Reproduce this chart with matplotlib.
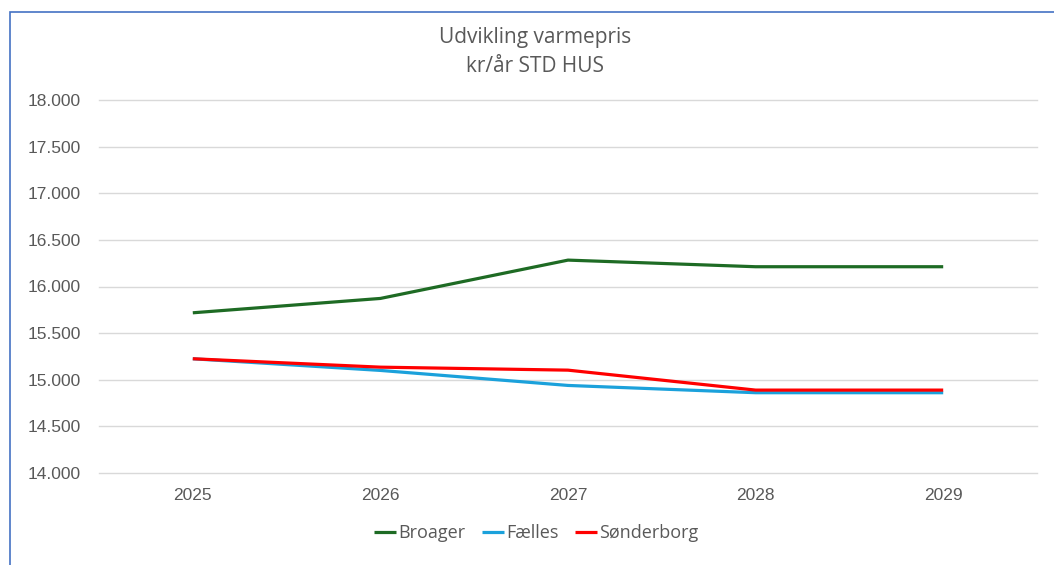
import matplotlib
matplotlib.use("Agg")
import matplotlib.pyplot as plt
from matplotlib.patches import Rectangle

years = ["2025", "2026", "2027", "2028", "2029"]
broager = [15718, 15872, 16283, 16212, 16212]
faelles = [15225, 15100, 14939, 14861, 14861]
soenderborg = [15225, 15135, 15103, 14889, 14889]
series_names = ["Broager", "Fælles", "Sønderborg"]
yticks = [14000, 14500, 15000, 15500, 16000, 16500, 17000, 17500, 18000]
ytick_labels = ["14.000", "14.500", "15.000", "15.500", "16.000", "16.500", "17.000", "17.500", "18.000"]

plt.rcParams['font.family'] = ['Open Sans', 'DejaVu Sans']
txt = '#595959'
tickfont = ['Liberation Sans', 'DejaVu Sans']

fig = plt.figure(figsize=(10.54, 5.65), dpi=100)
fig.patches.append(Rectangle((10/1054, -0.1), 1.2, 1 - 12/565 + 0.1, transform=fig.transFigure,
                             fill=False, edgecolor='#4472C4', linewidth=1.2))
ax = fig.add_axes([99/1054, 1 - 473/565, (1037-99)/1054, (473-100)/565])

x = list(range(len(years)))
colors = ['#1E6B24', '#1BA1DB', '#FF0000']
for data, name, c in zip([broager, faelles, soenderborg], series_names, colors):
    ax.plot(x, data, color=c, linewidth=2.3, label=name, solid_capstyle='butt')

ax.set_xlim(-0.5, len(years) - 0.5)
ax.set_ylim(14000, 18000)
ax.set_yticks(yticks)
ax.set_yticklabels(ytick_labels, family=tickfont)
ax.set_xticks(x)
ax.set_xticklabels(years, family=tickfont)
ax.grid(axis='y', color='#D9D9D9', linewidth=1)
for gl in ax.get_ygridlines():
    gl.set_clip_on(False)
ax.set_axisbelow(True)
for s in ax.spines.values():
    s.set_visible(False)
ax.tick_params(axis='both', length=0, colors=txt, labelsize=12.5)
ax.tick_params(axis='y', pad=13)
ax.tick_params(axis='x', pad=11)

fig.text(535/1054, 1 - 37/565, "Udvikling varmepris", ha='center', va='center', fontsize=15, color=txt)
fig.text(535/1054, 1 - 67/565, "kr/år STD HUS", ha='center', va='center', fontsize=15, color=txt)

leg = fig.legend(loc='center', bbox_to_anchor=(536/1054, 1 - 533/565), ncol=3, frameon=False,
                 handlelength=1.25, handletextpad=0.1, columnspacing=0.9, fontsize=13)
for t in leg.get_texts():
    t.set_color(txt)

fig.savefig("out.png", dpi=100)
